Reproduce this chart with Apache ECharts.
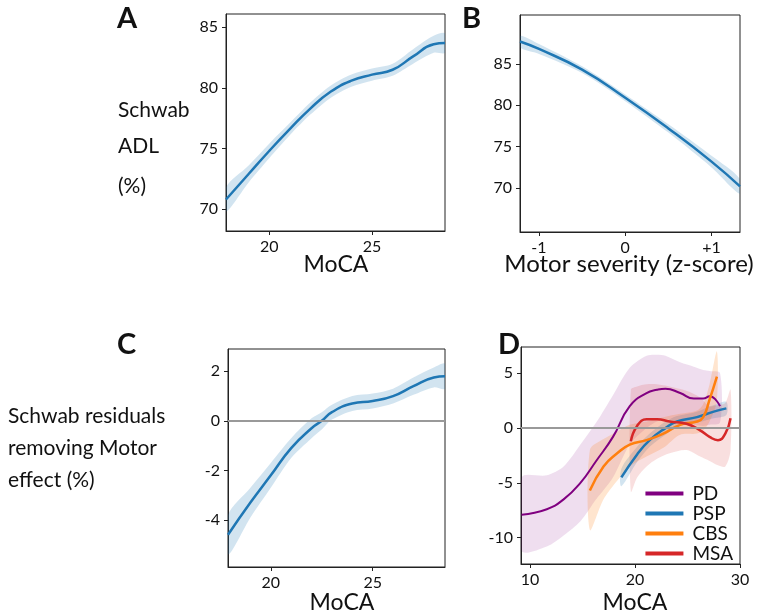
<!DOCTYPE html>
<html>
<head>
<meta charset="utf-8" />
<title>Schwab ADL vs MoCA</title>
<script src="https://cdn.jsdelivr.net/npm/echarts@6/dist/echarts.min.js"></script>
<style>
  html, body { margin: 0; background: #fff; }
  #chart { width: 760px; height: 616px; }
</style>
</head>
<body>
<div id="chart"></div>
<script type="text/javascript">
// panel A: Schwab ADL by MoCA
const aX = [17.9, 19, 20, 21, 22, 23, 24, 25, 26, 27, 28, 28.55]
const aY = [70.8, 72.9, 74.8, 76.6, 78.3, 79.7, 80.6, 81.1, 81.5, 82.6, 83.6, 83.7]
const aLo = [69.8, 72.2, 74.2, 76.1, 77.8, 79.2, 80.1, 80.6, 81.0, 82.0, 82.9, 82.9]
const aHi = [71.8, 73.6, 75.4, 77.1, 78.8, 80.2, 81.1, 81.6, 82.0, 83.2, 84.3, 84.5]
// panel B: Schwab ADL by motor severity
const bX = [-1.22, -1, -0.5, 0, 0.5, 1, 1.33]
const bY = [87.7, 86.8, 84.3, 80.9, 77.2, 73.2, 70.2]
const bLo = [87.0, 86.2, 83.9, 80.5, 76.7, 72.5, 69.3]
const bHi = [88.4, 87.4, 84.7, 81.3, 77.7, 73.9, 71.1]
// panel C: residuals by MoCA
const cX = [17.9, 19, 20, 21, 22, 22.5, 23, 24, 25, 26, 27, 28, 28.55]
const cY = [-4.6, -3.3, -2.2, -1.1, -0.3, 0, 0.35, 0.7, 0.8, 1.0, 1.4, 1.75, 1.8]
const cLo = [-5.4, -3.9, -2.7, -1.5, -0.7, -0.35, 0.05, 0.4, 0.5, 0.7, 1.05, 1.35, 1.3]
const cHi = [-3.8, -2.7, -1.7, -0.7, 0.1, 0.35, 0.65, 1.0, 1.1, 1.3, 1.75, 2.15, 2.3]
// panel D: residuals by diagnosis
const pdX = [9.2, 11.6, 13.2, 14.8, 16.3, 17.9, 19.5, 21.1, 22.1, 22.9, 24.3, 25.6, 26.5, 27.1, 28.1]
const pdY = [-7.9, -7.4, -6.5, -5.0, -3.0, -0.8, 2.0, 3.2, 3.5, 3.6, 3.2, 2.7, 2.7, 2.9, 2.0]
const pdLo = [-11.2, -10.8, -9.8, -8.5, -6.5, -4.5, -1.5, 0, 0.6, 0.8, 0.6, 0.3, 0.2, 0.3, 0.5]
const pdHi = [-4.5, -4.3, -3.5, -1.5, 0.5, 3.0, 5.5, 6.6, 6.7, 6.6, 6.0, 5.6, 5.3, 5.2, 5.0]
const pspX = [18.7, 20.2, 21.4, 22.9, 24.0, 25.9, 27.5, 28.7]
const pspY = [-4.5, -2.4, -1.1, 0, 0.6, 1.0, 1.5, 1.8]
const pspLo = [-5.3, -3.1, -1.7, -0.6, 0.1, 0.5, 0.9, 1.2]
const pspHi = [-3.7, -1.7, -0.5, 0.6, 1.1, 1.5, 2.1, 2.4]
const cbsX = [15.7, 17.0, 18.3, 19.5, 21.1, 22.7, 24.3, 25.9, 26.5, 27.1, 27.8]
const cbsY = [-5.7, -3.5, -2.3, -1.5, -1.1, -0.5, 0.3, 0.6, 1.0, 2.6, 4.7]
const cbsLo = [-9.3, -6.5, -4.8, -3.5, -2.6, -1.8, -0.6, -0.5, -0.2, 0.6, 2.5]
const cbsHi = [-2.0, -1.0, -0.3, 0.3, 0.6, 1.0, 1.3, 1.6, 2.2, 4.0, 7.0]
const msaX = [19.6, 20.2, 21.1, 22.1, 23.3, 24.9, 26.2, 27.1, 27.9, 28.6, 29.1]
const msaY = [-1.2, 0.2, 0.8, 0.8, 0.6, 0.4, -0.2, -0.8, -1.1, -0.5, 0.9]
const msaLo = [-5.8, -4.5, -3.5, -2.8, -2.3, -2.0, -2.6, -3.0, -3.4, -3.5, -2.0]
const msaHi = [3.5, 3.8, 4.0, 4.0, 3.8, 3.4, 2.8, 2.0, 2.1, 2.3, 3.5]

const FONT = 'Lato'
const BLUE = '#1f77b4', PURPLE = '#800080', ORANGE = '#ff7f0e', RED = '#d62728'

const chart = echarts.init(document.getElementById('chart'))

function zip(xs, ys) { return xs.map((x, i) => [x, ys[i]]) }

function band(idx, xs, lo, hi, color, opacity) {
    const rows = xs.map((x, i) => [x, lo[i], hi[i]])
    return {
        type: 'custom', xAxisIndex: idx, yAxisIndex: idx, z: 1, silent: true,
        data: rows,
        renderItem: (params, api) => {
            if (params.dataIndex !== 0) return
            const top = rows.map(r => api.coord([r[0], r[2]]))
            const bot = rows.map(r => api.coord([r[0], r[1]])).reverse()
            return {
                type: 'polygon',
                shape: { points: top.concat(bot), smooth: 0.3 },
                style: { fill: color, opacity: opacity },
                clipPath: { type: 'rect', shape: params.coordSys }
            }
        }
    }
}

function line(idx, name, xs, ys, color, width) {
    return {
        name: name, type: 'line', xAxisIndex: idx, yAxisIndex: idx, z: 3,
        data: zip(xs, ys), smooth: true, showSymbol: false, symbol: 'none',
        lineStyle: { color: color, width: width || 2.5 }, itemStyle: { color: color }
    }
}

function zeroLine(idx) {
    return {
        type: 'line', xAxisIndex: idx, yAxisIndex: idx, data: [], z: 2,
        markLine: {
            silent: true, symbol: 'none', label: { show: false },
            lineStyle: { color: '#999', width: 2, type: 'solid' },
            data: [{ yAxis: 0 }]
        }
    }
}

const tickStyle = {
    axisLine: { show: true, onZero: false, lineStyle: { color: '#222', width: 1 } },
    axisTick: { show: true, length: 4, lineStyle: { color: '#222' } },
    splitLine: { show: false },
    axisLabel: { color: '#111', fontSize: 16, fontFamily: FONT }
}

function xAxis(idx, min, max, ticks, fmt) {
    return Object.assign({}, tickStyle, {
        type: 'value', gridIndex: idx, min: min, max: max,
        axisTick: Object.assign({}, tickStyle.axisTick, { customValues: ticks }),
        axisLabel: Object.assign({}, tickStyle.axisLabel, { customValues: ticks, margin: 8, formatter: fmt || (v => String(v)) })
    })
}
function yAxis(idx, min, max, ticks) {
    return Object.assign({}, tickStyle, {
        type: 'value', gridIndex: idx, min: min, max: max,
        axisTick: Object.assign({}, tickStyle.axisTick, { customValues: ticks }),
        axisLabel: Object.assign({}, tickStyle.axisLabel, { customValues: ticks, margin: 8 })
    })
}

const gridBox = { show: true, borderColor: '#222', borderWidth: 1, containLabel: false }

function txt(x, y, text, size, weight, align) {
    return { type: 'text', x: x, y: y,
        style: { text: text, fontSize: size, fontWeight: weight || 'normal', fontFamily: FONT, fill: '#111', textAlign: align || 'left', textVerticalAlign: 'top' } }
}

chart.setOption({
    animation: false,
    grid: [
        Object.assign({ left: 226, top: 14, width: 219, height: 217 }, gridBox),
        Object.assign({ left: 520, top: 15, width: 220, height: 217 }, gridBox),
        Object.assign({ left: 228, top: 349, width: 217, height: 218 }, gridBox),
        Object.assign({ left: 521, top: 347, width: 219, height: 217 }, gridBox)
    ],
    xAxis: [
        xAxis(0, 17.9, 28.55, [20, 25]),
        xAxis(1, -1.22, 1.33, [-1, 0, 1], v => v > 0 ? '+' + v : String(v)),
        xAxis(2, 17.9, 28.55, [20, 25]),
        xAxis(3, 9.14, 30, [10, 20, 30])
    ],
    yAxis: [
        yAxis(0, 68.2, 86.1, [70, 75, 80, 85]),
        yAxis(1, 64.7, 90.9, [70, 75, 80, 85]),
        yAxis(2, -5.9, 2.9, [-4, -2, 0, 2]),
        yAxis(3, -12.4, 7.4, [-10, -5, 0, 5])
    ],
    legend: {
        right: 22, top: 479, orient: 'vertical', itemGap: 1,
        itemWidth: 38, itemHeight: 4, icon: 'rect',
        textStyle: { fontSize: 19, lineHeight: 19, fontFamily: FONT, color: '#111', padding: [0, 0, 0, 4] },
        data: ['PD', 'PSP', 'CBS', 'MSA']
    },
    graphic: [
        txt(117, 4, 'A', 29, 'bold'),
        txt(462, 4, 'B', 29, 'bold'),
        txt(117, 330, 'C', 29, 'bold'),
        txt(498, 330, 'D', 29, 'bold'),
        txt(118, 100, 'Schwab', 21),
        txt(118, 136, 'ADL', 21),
        txt(118, 176, '(%)', 21),
        txt(8, 406, 'Schwab residuals', 21),
        txt(8, 438, 'removing Motor', 21),
        txt(8, 470, 'effect (%)', 21),
        txt(336, 253, 'MoCA', 23, 'normal', 'center'),
        txt(629, 252, 'Motor severity (z-score)', 24, 'normal', 'center'),
        txt(342, 591, 'MoCA', 23, 'normal', 'center'),
        txt(635, 591, 'MoCA', 23, 'normal', 'center')
    ],
    series: [
        band(0, aX, aLo, aHi, BLUE, 0.2), line(0, 'A', aX, aY, BLUE),
        band(1, bX, bLo, bHi, BLUE, 0.2), line(1, 'B', bX, bY, BLUE),
        zeroLine(2),
        band(2, cX, cLo, cHi, BLUE, 0.2), line(2, 'C', cX, cY, BLUE),
        zeroLine(3),
        band(3, pdX, pdLo, pdHi, PURPLE, 0.13),
        band(3, pspX, pspLo, pspHi, BLUE, 0.2),
        band(3, cbsX, cbsLo, cbsHi, ORANGE, 0.2),
        band(3, msaX, msaLo, msaHi, RED, 0.15),
        line(3, 'PD', pdX, pdY, PURPLE, 2),
        line(3, 'PSP', pspX, pspY, BLUE, 2.5),
        line(3, 'CBS', cbsX, cbsY, ORANGE, 2.5),
        line(3, 'MSA', msaX, msaY, RED, 2.5)
    ]
})
</script>
</body>
</html>
